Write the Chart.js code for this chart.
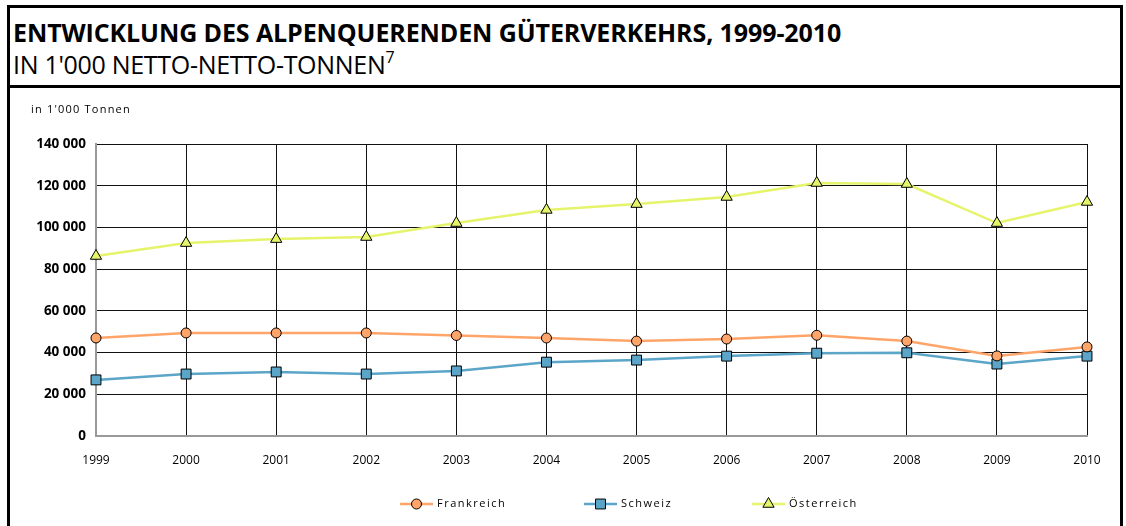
<!DOCTYPE html>
<html>
<head>
<meta charset="utf-8">
<script src="https://cdn.jsdelivr.net/npm/chart.js@4"></script>
<style>
  html, body { margin: 0; padding: 0; background: #fff; }
  body { width: 1126px; height: 526px; position: relative; overflow: hidden; font-family: "Open Sans", sans-serif; }
  #frame { position: absolute; left: 7px; top: 5px; width: 1116px; height: 540px; border: 3px solid #000; border-bottom: none; box-sizing: border-box; }
  #head { position: absolute; left: 7px; top: 5px; width: 1116px; height: 83px; border-bottom: 3px solid #000; box-sizing: border-box; }
  #title { position: absolute; left: 6px; top: 10px; font-size: 25px; font-weight: bold; color: #000; white-space: nowrap; letter-spacing: -0.1px; }
  #subtitle { position: absolute; left: 6px; top: 42px; font-size: 25px; color: #000; white-space: nowrap; letter-spacing: -0.3px; }
  #subtitle sup { font-size: 16px; position: relative; top: -2px; }
  #wrap { position: absolute; left: 10px; top: 88px; width: 1113px; height: 438px; }
</style>
</head>
<body>
<div id="frame"></div>
<div id="head">
  <div id="title">ENTWICKLUNG DES ALPENQUERENDEN GÜTERVERKEHRS, 1999-2010</div>
  <div id="subtitle">IN 1'000 NETTO-NETTO-TONNEN<sup>7</sup></div>
</div>
<div id="wrap"><canvas id="chart" width="1113" height="438"></canvas></div>
<script>
const years = ["1999", "2000", "2001", "2002", "2003", "2004", "2005", "2006", "2007", "2008", "2009", "2010"];
const frankreich = [47000, 49400, 49400, 49400, 48200, 47000, 45500, 46500, 48300, 45500, 38400, 42700];
const schweiz = [26900, 29700, 30700, 29700, 31200, 35400, 36400, 38300, 39700, 39900, 34500, 38300];
const oesterreich = [86300, 92500, 94400, 95400, 102100, 108400, 111200, 114600, 121300, 120800, 102100, 112200];
const yTicks = [0, 20000, 40000, 60000, 80000, 100000, 120000, 140000];

const fmt = (v) => String(v).replace(/\B(?=(\d{3})+(?!\d))/g, " ");

const customLegend = {
  id: "customLegend",
  afterDraw(chart) {
    const ctx = chart.ctx;
    const starts = [390, 574, 742];
    const y = 416;
    chart.data.datasets.forEach((ds, i) => {
      const x = starts[i];
      ctx.save();
      ctx.strokeStyle = ds.borderColor;
      ctx.lineWidth = 2.5;
      ctx.beginPath();
      ctx.moveTo(x, y);
      ctx.lineTo(x + 33, y);
      ctx.stroke();
      ctx.fillStyle = ds.pointBackgroundColor;
      ctx.strokeStyle = "#000";
      ctx.lineWidth = 1;
      Chart.helpers.drawPoint(ctx, { pointStyle: ds.pointStyle, radius: ds.pointRadius, rotation: 0, borderWidth: 1 }, x + 16.5, y);
      ctx.fillStyle = "#000";
      ctx.font = "11px 'Open Sans'";
      ctx.textBaseline = "middle";
      ctx.letterSpacing = "1.5px";
      ctx.fillText(ds.label, x + 37, y);
      ctx.restore();
    });
  }
};

const yCaption = {
  id: "yCaption",
  afterDraw(chart) {
    const ctx = chart.ctx;
    ctx.save();
    ctx.fillStyle = "#000";
    ctx.font = "11px 'Open Sans'";
    ctx.letterSpacing = "1.2px";
    ctx.textBaseline = "middle";
    ctx.fillText("in 1'000 Tonnen", 21, 22);
    ctx.restore();
  }
};

new Chart(document.getElementById("chart"), {
  type: "line",
  data: {
    labels: years,
    datasets: [
      {
        label: "Frankreich",
        data: frankreich,
        borderColor: "#ffa56a",
        pointBackgroundColor: "#ffa56a",
        pointStyle: "circle",
        pointRadius: 5,
      },
      {
        label: "Schweiz",
        data: schweiz,
        borderColor: "#5ba5c9",
        pointBackgroundColor: "#5ba5c9",
        pointStyle: "rect",
        pointRadius: 7,
      },
      {
        label: "Österreich",
        data: oesterreich,
        borderColor: "#e6f46c",
        pointBackgroundColor: "#e6f46c",
        pointStyle: "triangle",
        pointRadius: 6.5,
      },
    ].map((d) => ({
      ...d,
      borderWidth: 2.5,
      pointBorderColor: "#000",
      pointBorderWidth: 1,
      tension: 0,
      fill: false,
    })),
  },
  options: {
    responsive: false,
    animation: false,
    layout: { padding: { left: 0, right: 36, top: 56, bottom: 50 } },
    plugins: {
      legend: { display: false },
      tooltip: { enabled: false },
    },
    scales: {
      x: {
        offset: false,
        grid: { color: "#111", lineWidth: 1, drawTicks: false },
        border: { color: "#999", width: 2 },
        ticks: {
          color: "#000",
          font: { family: "Open Sans", size: 12 },
          padding: 17,
          maxRotation: 0,
        },
        afterFit: (scale) => { scale.height = 40; },
      },
      y: {
        min: 0,
        max: 140000,
        afterBuildTicks: (scale) => { scale.ticks = yTicks.map((v) => ({ value: v })); },
        grid: { color: "#111", lineWidth: 1, drawTicks: false },
        border: { color: "#999", width: 2 },
        ticks: {
          color: "#000",
          font: { family: "Open Sans", size: 13.5, weight: "bold" },
          padding: 10,
          callback: (v) => fmt(v),
        },
        afterFit: (scale) => { scale.width = 86; },
      },
    },
  },
  plugins: [customLegend, yCaption],
});
</script>
</body>
</html>
